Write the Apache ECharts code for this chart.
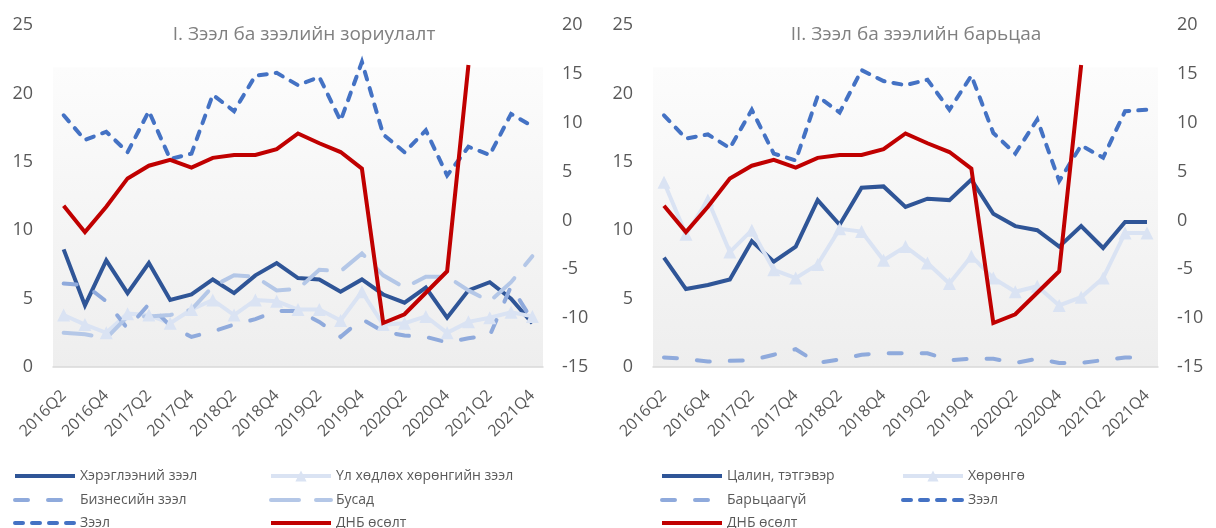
<!DOCTYPE html>
<html>
<head>
<meta charset="utf-8">
<script src="https://cdn.jsdelivr.net/npm/echarts@6/dist/echarts.min.js"></script>
<style>
  html, body { margin: 0; padding: 0; background: #fff; }
  #chart { width: 1216px; height: 528px; }
</style>
</head>
<body>
<div id="chart"></div>
<script>
// Зээл ба зээлийн зориулалт / барьцаа
var quarters = ['2016Q2', '2016Q3', '2016Q4', '2017Q1', '2017Q2', '2017Q3', '2017Q4', '2018Q1', '2018Q2', '2018Q3', '2018Q4', '2019Q1',
    '2019Q2', '2019Q3', '2019Q4', '2020Q1', '2020Q2', '2020Q3', '2020Q4', '2021Q1', '2021Q2', '2021Q3', '2021Q4'];

// I. зориулалт (зүүн тэнхлэг)
var hereglee = [8.6, 4.5, 7.8, 5.4, 7.6, 4.9, 5.3, 6.4, 5.4, 6.7, 7.6, 6.5, 6.4, 5.5, 6.4, 5.3, 4.7, 5.8, 3.6, 5.6, 6.2, 5.0, 3.2];
var ulHodloh = [3.8, 3.1, 2.5, 3.9, 3.8, 3.2, 4.2, 4.9, 3.8, 4.9, 4.8, 4.2, 4.2, 3.4, 5.5, 3.1, 3.2, 3.7, 2.5, 3.3, 3.6, 4.0, 3.7];
var biznes = [6.1, 6.0, 4.8, 2.8, 4.6, 3.0, 2.2, 2.6, 3.1, 3.5, 4.1, 4.1, 3.3, 2.2, 3.5, 2.6, 2.3, 2.2, 1.8, 2.1, 2.3, 5.9, 3.4];
var busad = [2.5, 2.4, 2.1, 3.7, 3.7, 3.8, 4.2, 5.9, 6.7, 6.6, 5.6, 5.7, 7.1, 7.0, 8.3, 6.7, 5.8, 6.6, 6.6, 5.6, 4.8, 6.2, 8.1];
var zeel1 = [18.4, 16.6, 17.2, 15.7, 18.7, 15.2, 15.6, 19.9, 18.7, 21.3, 21.5, 20.6, 21.2, 18.0, 22.3, 17.0, 15.7, 17.3, 14.0, 16.1, 15.5, 18.5, 17.6];

// II. барьцаа (зүүн тэнхлэг)
var tsalin = [8.0, 5.7, 6.0, 6.4, 9.2, 7.7, 8.8, 12.2, 10.4, 13.1, 13.2, 11.7, 12.3, 12.2, 13.7, 11.2, 10.3, 10.0, 8.8, 10.3, 8.7, 10.6, 10.6];
var horongo = [13.5, 9.7, 12.2, 8.4, 10.0, 7.1, 6.5, 7.5, 10.1, 9.9, 7.8, 8.8, 7.6, 6.1, 8.1, 6.5, 5.5, 5.9, 4.5, 5.1, 6.5, 9.8, 9.8];
var bartsaaGui = [0.7, 0.6, 0.4, 0.45, 0.5, 0.9, 1.3, 0.3, 0.55, 0.9, 1.0, 1.0, 1.0, 0.5, 0.6, 0.6, 0.3, 0.6, 0.3, 0.3, 0.5, 0.7, 0.7];
var zeel2 = [18.4, 16.7, 17.0, 16.0, 18.8, 15.6, 15.1, 19.8, 18.6, 21.7, 20.9, 20.6, 21.0, 18.8, 21.3, 17.1, 15.6, 18.1, 13.6, 16.2, 15.3, 18.7, 18.8];

// ДНБ өсөлт (баруун тэнхлэг)
var dnb = [1.5, -1.2, 1.4, 4.3, 5.6, 6.2, 5.4, 6.4, 6.7, 6.7, 7.3, 8.9, 7.9, 7.0, 5.3, -10.5, -9.6, -7.4, -5.2, 15.9, null, null, null];

var leftTicks = [0, 25, 5];
var rightTicks = [-15, 20, 5];

var fontName = '"Open Sans", "Noto Sans", sans-serif';
var grey = '#595959';

var myChart = echarts.init(document.getElementById('chart'));

var plotBg = new echarts.graphic.LinearGradient(0, 0, 0, 1, [
    {offset: 0, color: '#ffffff'},
    {offset: 0.122, color: '#ffffff'},
    {offset: 0.125, color: '#fcfcfc'},
    {offset: 1, color: '#eeeeee'}
]);

function xAxisFor(grid) {
    return {
        type: 'category',
        gridIndex: grid,
        data: quarters,
        boundaryGap: true,
        axisTick: {show: false},
        axisLine: {lineStyle: {color: '#d9d9d9', width: 1.5}},
        axisLabel: {
            interval: 1,
            rotate: 45,
            margin: 26,
            color: grey,
            fontSize: 16,
            fontFamily: fontName
        },
        splitLine: {show: false}
    };
}

function yAxisFor(grid, pos, ticks) {
    return {
        type: 'value',
        gridIndex: grid,
        position: pos,
        min: ticks[0],
        max: ticks[1],
        interval: ticks[2],
        axisLine: {show: false},
        axisTick: {show: false},
        splitLine: {show: false},
        axisLabel: {
            margin: pos == 'left' ? 20 : 19,
            color: grey,
            fontSize: 18,
            fontFamily: fontName
        }
    };
}

// нэг цувааны хэв маяг
function lineSeries(name, data, xi, yi, color, opts) {
    opts = opts || {};
    return {
        name: name,
        type: 'line',
        xAxisIndex: xi,
        yAxisIndex: yi,
        data: data,
        symbol: opts.symbol || 'none',
        symbolSize: 13,
        showSymbol: !!opts.symbol,
        connectNulls: false,
        animation: false,
        itemStyle: {color: color},
        lineStyle: {
            color: color,
            width: 4,
            type: opts.dash || 'solid',
            cap: opts.dash ? 'round' : 'butt',
            join: 'miter'
        },
        z: opts.z || 2
    };
}

// тайлбар: нэг мөр, нэг зүйл
var legendRows = [469, 493, 516];
function legendItem(name, left, row, marker) {
    return {
        left: left,
        top: legendRows[row],
        padding: 0,
        itemWidth: 60,
        itemHeight: 14,
        selectedMode: false,
        data: [name],
        lineStyle: {width: 4},
        itemStyle: marker ? {} : {opacity: 0},
        textStyle: {color: grey, fontSize: 14, fontFamily: fontName}
    };
}

var option = {
    backgroundColor: '#ffffff',
    title: [
        {
            text: 'I. Зээл ба зээлийн зориулалт',
            left: 299, top: 20, textAlign: 'center',
            textStyle: {color: '#808080', fontSize: 19, fontWeight: 'normal', fontFamily: fontName}
        },
        {
            text: 'II. Зээл ба зээлийн барьцаа',
            left: 911, top: 20, textAlign: 'center',
            textStyle: {color: '#808080', fontSize: 19, fontWeight: 'normal', fontFamily: fontName}
        }
    ],
    legend: [
        legendItem('Хэрэглээний зээл', 13, 0),
        legendItem('Бизнесийн зээл', 13, 1),
        legendItem('Зээл', 13, 2),
        legendItem('Үл хөдлөх хөрөнгийн зээл', 269, 0, true),
        legendItem('Бусад', 269, 1),
        legendItem('ДНБ өсөлт', 269, 2),
        legendItem('Цалин, тэтгэвэр', 660, 0),
        legendItem('Барьцаагүй', 660, 1),
        legendItem('ДНБ өсөлт', 660, 2),
        legendItem('Хөрөнгө', 901, 0, true),
        legendItem('Зээл', 901, 1)
    ],
    grid: [
        {left: 53, right: 673, top: 25, bottom: 161, show: true, borderWidth: 0, backgroundColor: plotBg},
        {left: 653, right: 58, top: 25, bottom: 161, show: true, borderWidth: 0, backgroundColor: plotBg}
    ],
    xAxis: [xAxisFor(0), xAxisFor(1)],
    yAxis: [
        yAxisFor(0, 'left', leftTicks),
        yAxisFor(0, 'right', rightTicks),
        yAxisFor(1, 'left', leftTicks),
        yAxisFor(1, 'right', rightTicks)
    ],
    series: [
        lineSeries('Хэрэглээний зээл', hereglee, 0, 0, '#2f5597'),
        lineSeries('Үл хөдлөх хөрөнгийн зээл', ulHodloh, 0, 0, '#dae3f3', {symbol: 'triangle'}),
        lineSeries('Бизнесийн зээл', biznes, 0, 0, '#8faadc', {dash: [13, 20]}),
        lineSeries('Бусад', busad, 0, 0, '#b4c7e7', {dash: [28, 17]}),
        lineSeries('Зээл', zeel1, 0, 0, '#4472c4', {dash: [8, 9]}),
        lineSeries('ДНБ өсөлт', dnb, 0, 1, '#c00000', {z: 3}),

        lineSeries('Цалин, тэтгэвэр', tsalin, 1, 2, '#2f5597'),
        lineSeries('Хөрөнгө', horongo, 1, 2, '#dae3f3', {symbol: 'triangle'}),
        lineSeries('Барьцаагүй', bartsaaGui, 1, 2, '#8faadc', {dash: [13, 20]}),
        lineSeries('Зээл', zeel2, 1, 2, '#4472c4', {dash: [8, 9]}),
        lineSeries('ДНБ өсөлт', dnb, 1, 3, '#c00000', {z: 3})
    ]
};

myChart.setOption(option);
</script>
</body>
</html>
